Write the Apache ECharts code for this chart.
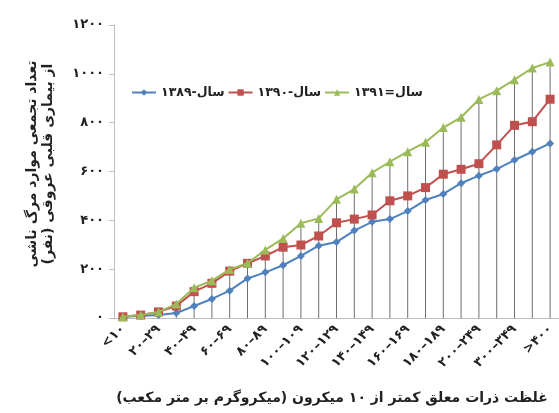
<!DOCTYPE html>
<html>
<head>
<meta charset="utf-8">
<script src="https://cdn.jsdelivr.net/npm/echarts@6/dist/echarts.min.js"></script>
<style>html,body{margin:0;padding:0;background:#fff}#c{width:559px;height:413px}</style>
</head>
<body>
<div id="c"></div>
<script>
const categories = ['<۱۰','۱۰\u200E–\u200E۱۹','۲۰\u200E–\u200E۲۹','۳۰\u200E–\u200E۳۹','۴۰\u200E–\u200E۴۹','۵۰\u200E–\u200E۵۹','۶۰\u200E–\u200E۶۹','۷۰\u200E–\u200E۷۹','۸۰\u200E–\u200E۸۹','۹۰\u200E–\u200E۹۹','۱۰۰\u200E–\u200E۱۰۹','۱۱۰\u200E–\u200E۱۱۹','۱۲۰\u200E–\u200E۱۲۹','۱۳۰\u200E–\u200E۱۳۹','۱۴۰\u200E–\u200E۱۴۹','۱۵۰\u200E–\u200E۱۵۹','۱۶۰\u200E–\u200E۱۶۹','۱۷۰\u200E–\u200E۱۷۹','۱۸۰\u200E–\u200E۱۸۹','۱۹۰\u200E–\u200E۱۹۹','۲۰۰\u200E–\u200E۲۴۹','۲۵۰\u200E–\u200E۲۹۹','۳۰۰\u200E–\u200E۳۴۹','۳۵۰\u200E–\u200E۳۹۹','>۴۰۰'];
const seriesNames = ['سال-۱۳۸۹','سال-۱۳۹۰','سال=۱۳۹۱'];
const s1389 = [5,8,12,20,49,78,112,162,187,216,254,296,311,358,394,405,438,483,508,552,583,610,647,681,715];
const s1390 = [5,12,25,49,108,142,192,224,254,290,299,336,390,405,422,480,500,534,589,609,632,709,789,804,896];
const s1391 = [5,12,25,57,124,153,199,224,279,326,388,408,486,528,595,640,681,720,780,822,895,931,976,1024,1048];
const yTickValues = [0,200,400,600,800,1000,1200];
const yTickLabels = ['۰','۲۰۰','۴۰۰','۶۰۰','۸۰۰','۱۰۰۰','۱۲۰۰'];
const yAxisTitle = 'تعداد تجمعی موارد مرگ ناشی\u200F\nاز بیماری قلبی عروقی (نفر)\u200F';
const xAxisTitle = 'غلظت ذرات معلق کمتر از ۱۰ میکرون (میکروگرم بر متر مکعب)\u200F';

const FONT = 'DejaVu Sans';
const chart = echarts.init(document.getElementById('c'), null, {renderer:'canvas'});
chart.setOption({
  animation:false,
  backgroundColor:'#fff',
  grid:{left:114, top:25, width:453, height:293, containLabel:false},
  legend:{
    data:seriesNames, left:126, top:81, itemWidth:24, itemHeight:8, itemGap:3,
    textStyle:{fontFamily:FONT, fontWeight:'bold', fontSize:12.5, color:'#222'}
  },
  xAxis:{
    type:'category', data:categories, boundaryGap:true,
    axisLine:{show:true, lineStyle:{color:'#bfbfbf', width:1}},
    axisTick:{show:false},
    axisLabel:{interval:1, rotate:45, margin:9, fontFamily:FONT, fontWeight:'bold', fontSize:13, color:'#222'},
    splitLine:{show:false}
  },
  yAxis:{
    type:'value', min:0, max:1200, interval:200,
    axisLine:{show:true, lineStyle:{color:'#bfbfbf', width:1}},
    axisTick:{show:true, length:5, lineStyle:{color:'#bfbfbf'}},
    axisLabel:{margin:10, fontFamily:FONT, fontWeight:'bold', fontSize:13, color:'#222',
      formatter:function(v){const i=yTickValues.indexOf(v);return i>=0?yTickLabels[i]:'';}},
    splitLine:{show:false}
  },
  series:[
    {type:'bar', name:'drop', data:s1391, barWidth:1, itemStyle:{color:'#6e6e6e'}, silent:true, z:1},
    {type:'line', name:seriesNames[0], data:s1389, symbol:'diamond', symbolSize:8,
      lineStyle:{color:'#4F81BD', width:2}, itemStyle:{color:'#4F81BD'}, z:3},
    {type:'line', name:seriesNames[1], data:s1390, symbol:'rect', symbolSize:9,
      lineStyle:{color:'#C0504D', width:2}, itemStyle:{color:'#C0504D'}, z:4},
    {type:'line', name:seriesNames[2], data:s1391, symbol:'triangle', symbolSize:9,
      lineStyle:{color:'#9BBB59', width:2}, itemStyle:{color:'#9BBB59'}, z:5}
  ],
  graphic:[
    {type:'text', x:40, y:164, rotation:Math.PI/2,
      style:{text:yAxisTitle, font:'bold 14px "DejaVu Sans"', fill:'#222', align:'center', verticalAlign:'middle', lineHeight:16}},
    {type:'text', x:332, y:398,
      style:{text:xAxisTitle, font:'bold 14px "DejaVu Sans"', fill:'#222', align:'center', verticalAlign:'middle'}}
  ]
});
</script>
</body>
</html>
